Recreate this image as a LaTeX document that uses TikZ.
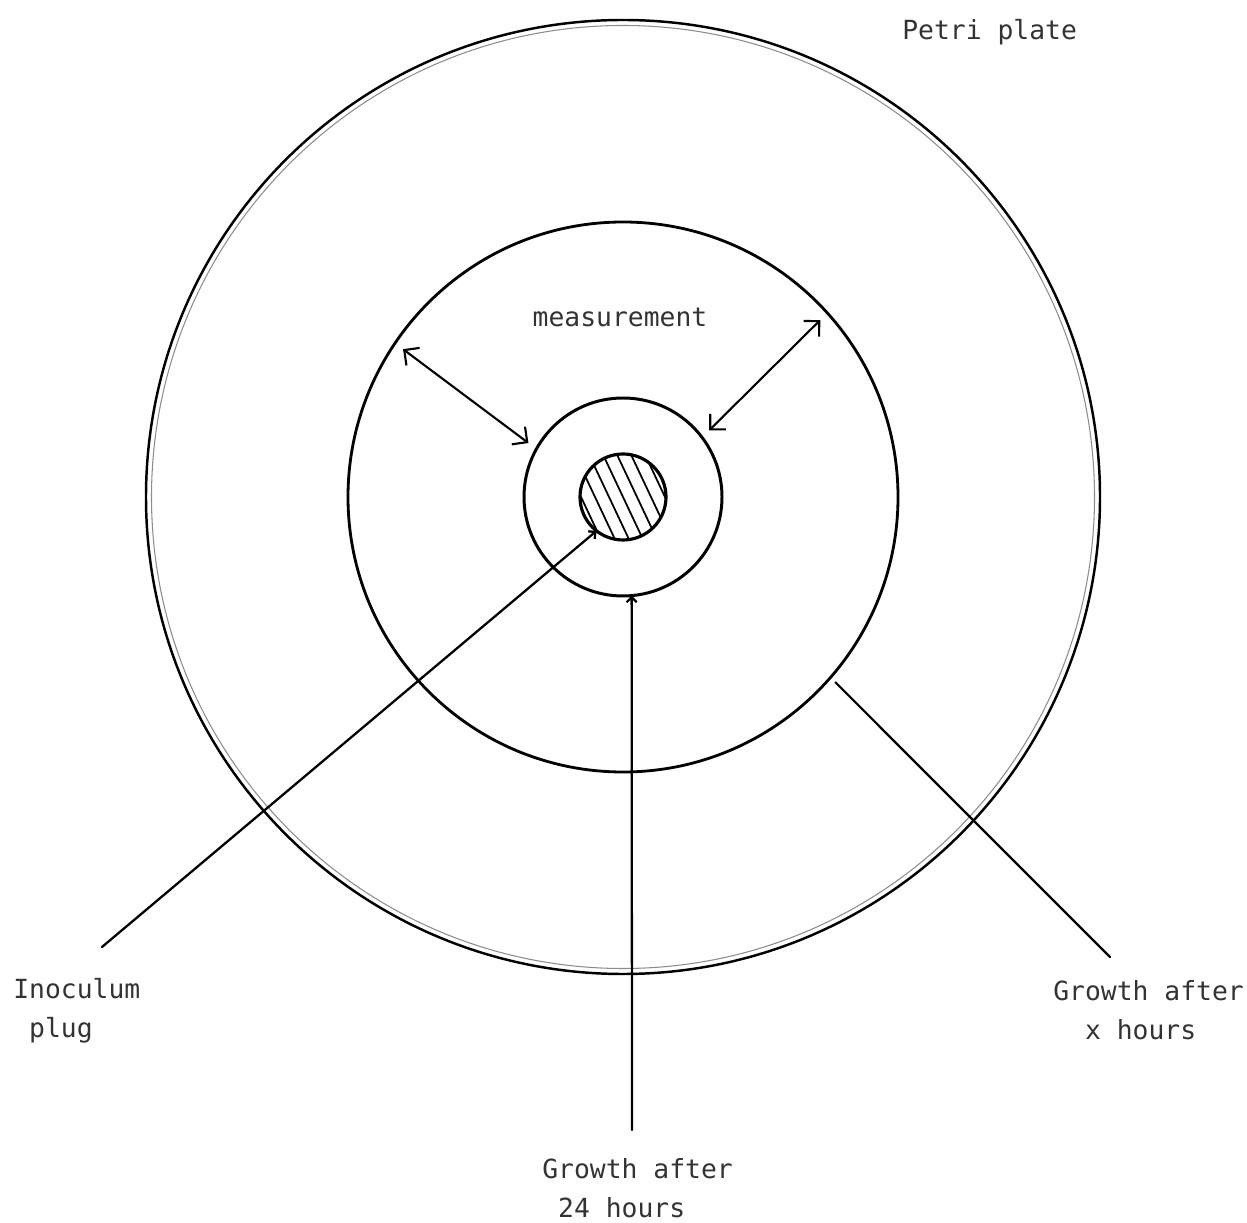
\documentclass[tikz,border=0pt]{standalone}
\usepackage{fontspec}
\usepackage{xcolor}
\usepackage{tikz}
\usetikzlibrary{arrows.meta}
\setmonofont{DejaVu Sans Mono}

\begin{document}
\begin{tikzpicture}[
    ring/.style={circle, draw, inner sep=0pt, outer sep=0pt},
    leader/.style={line width=1.3pt, line cap=round},
    measure/.style={line width=1.2pt, {Straight Barb[length=2.2mm,width=4.4mm]}-{Straight Barb[length=2.2mm,width=4.4mm]}, shorten <=0.2cm, shorten >=0.2cm},
    txt/.style={font=\ttfamily\fontsize{15}{22}\selectfont, text=black!80, inner sep=0pt, align=left}
]
    \useasboundingbox (0,0) rectangle (24.94,24.44);
    \coordinate (c) at (12.46,14.50);

    % Plate and growth rings
    \node[ring, line width=1.4pt, minimum size=19.08cm] (plate) at (c) {};
    \node[ring, draw=black!45, line width=0.6pt, minimum size=18.86cm] (rim) at (c) {};
    \node[ring, line width=1.6pt, minimum size=11cm] (xring) at (c) {};
    \node[ring, line width=1.7pt, minimum size=3.96cm] (dring) at (c) {};

    % Inoculum plug, hatched
    \begin{scope}
        \clip (c) circle (0.86);
        \foreach \h in {-3,...,3}
            \draw[line width=1pt] (c) ++(\h*0.28-0.5,1.06) -- ++(1,-2.12);
    \end{scope}
    \node[ring, line width=1.8pt, minimum size=1.72cm] (plug) at (c) {};

    % Measurement arrows
    \draw[measure] (xring.146.6) -- (dring.151.6);
    \draw[measure] (xring.42.6) -- (dring.37);

    % Label leaders
    \coordinate (plugend) at (2.04,5.50);
    \coordinate (dayend) at (12.64,1.84);
    \coordinate (xend) at (22.20,5.30);
    \draw[leader, -{Straight Barb[length=1mm,width=2mm]}] (plugend) -- (plug.232);
    \draw[leader, -{Straight Barb[length=1mm,width=2mm]}] (dayend) -- (dring.275);
    \draw[leader, shorten <=0.14cm] (xring.-41) -- (xend);

    % Labels
    \node[txt, anchor=base west] (petri) at (18.04,23.64) {Petri plate};
    \node[txt, anchor=base] (meas) at (12.40,17.90) {measurement};
    \node[txt, anchor=north west] (inoc) at (0.26,4.88) {Inoculum\\\phantom{x}plug};
    \node[txt, anchor=north west] (day) at (10.84,1.28) {Growth after\\\phantom{x}24 hours};
    \node[txt, anchor=north west] (xhours) at (21.06,4.84) {Growth after\\\phantom{xx}x hours};
\end{tikzpicture}
\end{document}
